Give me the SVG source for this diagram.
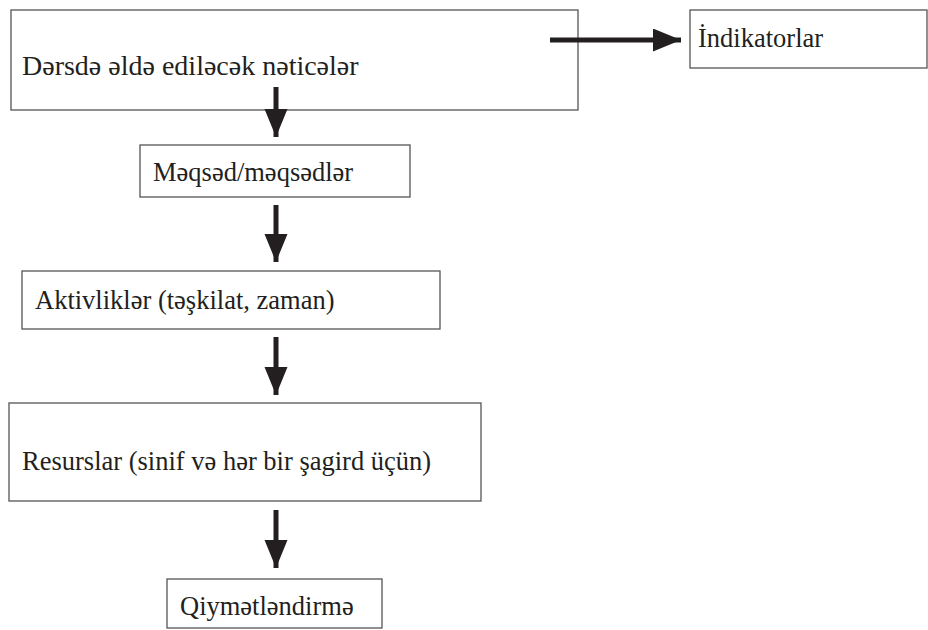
<svg xmlns="http://www.w3.org/2000/svg" width="928" height="630" viewBox="0 0 928 630">
<style>
.box{fill:#fff;stroke:#555;stroke-width:1.3}
.lbl{font-family:"Liberation Serif","DejaVu Serif",serif;font-size:26.5px;fill:#231f20}
.big{font-size:28px}
.arr{stroke:#231f20;stroke-width:5;fill:none}
</style>
<defs>
<marker id="ah" markerUnits="userSpaceOnUse" markerWidth="30" markerHeight="24" refX="28" refY="11.5" orient="auto">
<path d="M0,0 L28,11.5 L0,23 Z" fill="#231f20"/>
</marker>
</defs>
<rect width="928" height="630" fill="#fff"/>
<g id="n1"><rect class="box" x="11" y="10" width="567" height="100"/><text class="lbl big" x="22" y="75">Dərsdə əldə ediləcək nəticələr</text></g>
<g id="n2"><rect class="box" x="690" y="10" width="237" height="58"/><text class="lbl" x="698" y="47">İndikatorlar</text></g>
<g id="n3"><rect class="box" x="140" y="145" width="270" height="52"/><text class="lbl" x="153" y="181">Məqsəd/məqsədlər</text></g>
<g id="n4"><rect class="box" x="22" y="271" width="418" height="58"/><text class="lbl" x="35" y="309">Aktivliklər (təşkilat, zaman)</text></g>
<g id="n5"><rect class="box" x="9" y="403" width="472" height="98"/><text class="lbl" x="22" y="470">Resurslar (sinif və hər bir şagird üçün)</text></g>
<g id="n6"><rect class="box" x="167" y="579" width="215" height="49"/><text class="lbl" x="180" y="615">Qiymətləndirmə</text></g>
<g id="connectors">
<path class="arr" d="M550,40 H681" marker-end="url(#ah)"/>
<path class="arr" d="M276,87 V137" marker-end="url(#ah)"/>
<path class="arr" d="M276,205 V262" marker-end="url(#ah)"/>
<path class="arr" d="M276,337 V395" marker-end="url(#ah)"/>
<path class="arr" d="M276,510 V568" marker-end="url(#ah)"/>
</g>
</svg>
